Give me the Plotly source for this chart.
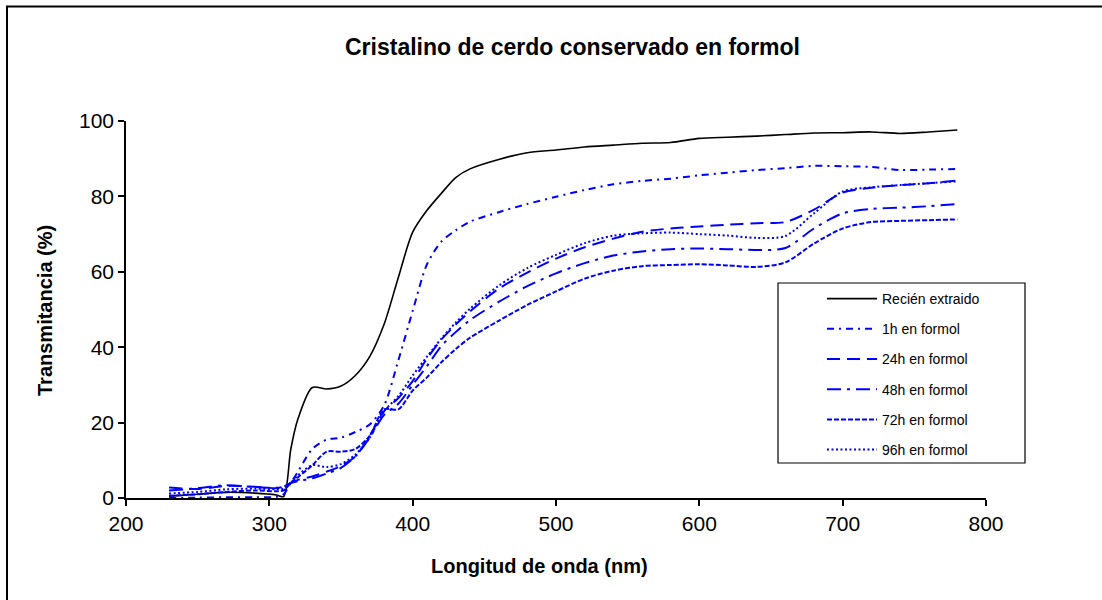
import plotly.graph_objects as go

# Wavelength grid (nm) shared by all spectra
wavelength = [230, 250, 270, 290, 305, 310, 315, 320, 330, 340, 350, 360, 370, 380,
              390, 400, 410, 420, 430, 440, 460, 480, 500, 520, 540, 560, 580, 600,
              620, 640, 660, 680, 700, 720, 740, 760, 780]

# Transmittance (%) for each sample
recien = [0.5, 1.0, 1.5, 1.3, 0.8, 0.4, 13, 21, 29.3, 28.9, 29.7, 32.5, 37.5, 46.0,
          58.5, 70.5, 76.3, 80.8, 85.0, 87.3, 89.8, 91.6, 92.3, 93.1, 93.6, 94.1, 94.3, 95.4,
          95.7, 96.0, 96.4, 96.8, 96.9, 97.1, 96.7, 97.1, 97.6]
h1 = [0.1, 0.1, 0.2, 0.2, 0.3, 1.0, 4.0, 7.0, 13.0, 15.5, 16.0, 17.5, 19.5, 24.5,
      36.5, 49.6, 62.0, 68.0, 71.0, 73.3, 75.8, 78.0, 79.9, 81.7, 83.2, 84.1, 84.7, 85.6,
      86.3, 87.0, 87.5, 88.1, 88.0, 87.8, 87.0, 87.1, 87.3]
h24 = [2.8, 2.4, 3.2, 3.0, 2.6, 3.0, 4.0, 4.8, 5.7, 7.0, 8.5, 11.0, 16.5, 23.0,
       26.5, 31.0, 37.0, 42.0, 46.0, 49.5, 55.5, 59.8, 63.5, 66.5, 68.8, 70.6, 71.5, 72.0,
       72.5, 72.9, 73.2, 76.5, 81.0, 82.3, 83.0, 83.5, 84.2]
h48 = [2.0, 2.6, 3.4, 2.9, 2.7, 3.0, 4.0, 4.5, 5.2, 6.5, 8.0, 11.0, 16.0, 22.0,
       25.0, 30.0, 35.0, 40.3, 44.0, 47.2, 52.0, 56.2, 59.6, 62.3, 64.3, 65.4, 66.0, 66.2,
       66.0, 65.8, 66.3, 71.5, 75.5, 76.7, 77.0, 77.4, 78.0]
h72 = [0.6, 1.0, 1.6, 2.0, 1.8, 2.0, 4.0, 5.5, 8.7, 12.3, 12.3, 13.0, 16.5, 23.5,
       23.5, 28.5, 32.0, 36.0, 39.5, 42.5, 47.0, 51.2, 54.8, 58.2, 60.3, 61.5, 61.8, 62.0,
       61.7, 61.3, 62.5, 67.5, 71.5, 73.2, 73.5, 73.7, 73.9]
h96 = [1.2, 1.6, 2.3, 2.5, 2.3, 2.5, 4.0, 6.0, 8.7, 8.2, 9.0, 11.5, 16.0, 23.0,
       27.0, 32.5, 37.5, 42.3, 46.5, 50.2, 56.3, 61.0, 64.5, 67.6, 69.6, 70.2, 70.4, 70.0,
       69.6, 69.0, 69.5, 75.5, 81.3, 82.4, 83.0, 83.5, 84.0]

series_names = ["Recién extraido", "1h en formol", "24h en formol",
                "48h en formol", "72h en formol", "96h en formol"]
series_values = [recien, h1, h24, h48, h72, h96]
series_colors = ["black", "blue", "blue", "blue", "blue", "blue"]
series_widths = [1.6, 2, 2, 2, 2, 2]
series_dash = ["solid", "7px,5px,2px,5px", "13px,7px", "14px,6px,3px,6px",
               "5px,2px", "2px,2.5px"]

FONT = "Liberation Sans, Arial, sans-serif"

fig = go.Figure()
for i, (name, vals) in enumerate(zip(series_names, series_values)):
    fig.add_trace(go.Scatter(
        x=wavelength, y=vals, name=name, mode="lines",
        line=dict(color=series_colors[i], width=series_widths[i],
                  dash=series_dash[i], shape="spline", smoothing=0.8),
        legendgroup=f"g{i}",
    ))

# plot-area geometry in pixels, used to place paper-referenced decorations
L, R, T, B = 126, 986, 121, 498
W, H = R - L, B - T


def px(x):
    return (x - L) / W


def py(y):
    return (B - y) / H


fig.update_layout(
    width=1102, height=600,
    margin=dict(l=L, r=1102 - R, t=T, b=600 - B),
    paper_bgcolor="white", plot_bgcolor="white",
    font=dict(family=FONT, color="black"),
    showlegend=True,
    legend=dict(
        x=px(822), y=py(283), xanchor="left", yanchor="top",
        bgcolor="rgba(0,0,0,0)", borderwidth=0,
        font=dict(size=14, family=FONT),
        tracegroupgap=9, traceorder="grouped", itemwidth=50,
    ),
    xaxis=dict(
        range=[200, 800], dtick=100, tick0=200,
        showline=True, linecolor="black", linewidth=2,
        ticks="outside", ticklen=6, tickcolor="black", tickwidth=1.5,
        showgrid=False, zeroline=False,
        tickfont=dict(size=21, family=FONT),
    ),
    yaxis=dict(
        range=[0, 100], dtick=20, tick0=0,
        showline=True, linecolor="black", linewidth=1.5,
        ticks="outside", ticklen=6, tickcolor="black", tickwidth=1.5,
        showgrid=False, zeroline=False,
        tickfont=dict(size=21, family=FONT),
    ),
    shapes=[
        # outer chart frame
        dict(type="rect", xref="paper", yref="paper",
             x0=px(7), x1=px(1150), y0=py(650), y1=py(6.5),
             line=dict(color="black", width=2), fillcolor="rgba(0,0,0,0)",
             layer="below"),
        # legend box
        dict(type="rect", xref="paper", yref="paper",
             x0=px(778), x1=px(1025), y0=py(463), y1=py(283),
             line=dict(color="black", width=1.2), fillcolor="white",
             layer="above"),
    ],
    annotations=[
        dict(text="<b>Cristalino de cerdo conservado en formol</b>",
             xref="paper", yref="paper", x=px(572), y=py(47),
             showarrow=False, font=dict(size=23, family=FONT),
             xanchor="center", yanchor="middle"),
        dict(text="<b>Longitud de onda (nm)</b>",
             xref="paper", yref="paper", x=px(539), y=py(566),
             showarrow=False, font=dict(size=20, family=FONT),
             xanchor="center", yanchor="middle"),
        dict(text="<b>Transmitancia (%)</b>",
             xref="paper", yref="paper", x=px(45), y=py(311),
             showarrow=False, font=dict(size=20, family=FONT),
             textangle=-90, xanchor="center", yanchor="middle"),
    ],
)

fig.write_html("out.html")
